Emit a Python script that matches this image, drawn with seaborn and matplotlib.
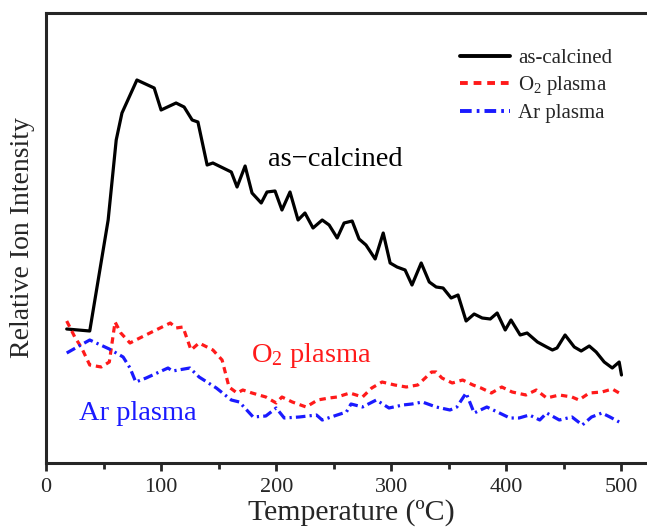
import numpy as np
import pandas as pd
import matplotlib
matplotlib.use("Agg")
import matplotlib.pyplot as plt
from matplotlib.ticker import MultipleLocator
import seaborn as sns

# ---- data (intensity in arbitrary units) ----
calc_T = [18, 38, 54, 61, 66, 79, 94, 100, 113, 120, 127, 132, 140, 145, 161, 166, 173, 179,
          187, 192, 199, 205, 212, 219, 225, 232, 240, 246, 253, 259, 266, 272, 278, 286, 293,
          299, 305, 312, 318, 326, 333, 339, 345, 352, 358, 365, 372, 379, 386, 392, 399, 404,
          412, 418, 427, 435, 440, 444, 451, 459, 465, 472, 478, 485, 492, 498, 500]
calc_I = [134, 132, 243, 323, 350, 383, 375, 353, 360, 356, 343, 341, 298, 300, 291, 276, 297, 270,
          260, 271, 272, 253, 271, 243, 250, 235, 243, 238, 225, 240, 242, 224, 218, 204, 230,
          200, 196, 193, 178, 200, 181, 176, 175, 165, 168, 142, 149, 145, 144, 150, 133, 143,
          128, 130, 121, 116, 113, 115, 128, 116, 112, 117, 111, 101, 95, 101, 88]

o2_T = [18, 25, 31, 38, 48, 55, 60, 65, 73, 78, 92, 108, 113, 119, 126, 133, 145, 153, 159, 166,
        171, 179, 191, 200, 205, 214, 226, 236, 246, 253, 264, 275, 283, 292, 303, 313, 323, 335,
        339, 344, 353, 362, 371, 378, 387, 396, 405, 417, 426, 435, 446, 457, 463, 472, 483, 492, 498]
o2_I = [142, 126, 115, 98, 96, 101, 141, 130, 120, 123, 131, 140, 135, 136, 113, 120, 113, 103, 76, 70,
        73, 70, 66, 60, 66, 61, 56, 63, 65, 66, 70, 66, 75, 81, 78, 76, 78, 91,
        91, 85, 80, 83, 78, 75, 70, 76, 71, 68, 73, 65, 68, 66, 63, 70, 71, 74, 70]

ar_T = [18, 38, 55, 67, 73, 78, 87, 106, 110, 125, 133, 148, 161, 168, 180, 191, 200, 207, 220,
        235, 240, 253, 261, 265, 275, 287, 298, 310, 318, 327, 339, 351, 357, 365, 372, 383, 394,
        403, 411, 420, 429, 435, 446, 457, 466, 474, 483, 490, 498]
ar_I = [110, 123, 114, 106, 95, 81, 85, 95, 92, 95, 86, 75, 63, 61, 46, 47, 55, 45, 46,
        48, 43, 48, 51, 59, 56, 63, 55, 58, 59, 61, 56, 53, 56, 70, 50, 56, 50,
        45, 45, 48, 43, 50, 43, 46, 38, 46, 50, 46, 41]

series_labels = ["as-calcined", "O$_2$ plasma", "Ar plasma"]
annot_texts = ["as\u2212calcined", "O$_2$ plasma", "Ar plasma"]
colors = ["black", "#ff1a1a", "#1a1aff"]
x_ticks = [0, 100, 200, 300, 400, 500]

df = pd.concat([
    pd.DataFrame({"T": calc_T, "I": calc_I, "s": series_labels[0]}),
    pd.DataFrame({"T": o2_T, "I": o2_I, "s": series_labels[1]}),
    pd.DataFrame({"T": ar_T, "I": ar_I, "s": series_labels[2]}),
])

sns.set_style("ticks")
plt.rcParams["font.family"] = ["Liberation Serif", "DejaVu Serif"]
plt.rcParams["mathtext.fontset"] = "custom"
plt.rcParams["mathtext.rm"] = "Liberation Serif"
plt.rcParams["mathtext.it"] = "Liberation Serif:italic"

fig = plt.figure(figsize=(6.47, 5.32), dpi=100)
ax = fig.add_axes([46 / 647, 1 - 463 / 532, 610 / 647, 450 / 532])

dashes = {series_labels[0]: "", series_labels[1]: (2.0, 1.5), series_labels[2]: (3.0, 1.3, 0.7, 1.3)}
sns.lineplot(data=df, x="T", y="I", hue="s", style="s", palette=dict(zip(series_labels, colors)),
             dashes=dashes, linewidth=2.3, sort=False, ax=ax, estimator=None)

ax.set_xlim(0, 530)
ax.set_ylim(0, 450)
ax.set_xticks(x_ticks)
ax.xaxis.set_minor_locator(MultipleLocator(50))
ax.set_yticks([])
ax.tick_params(axis="x", which="major", direction="out", length=6, width=2, labelsize=16, pad=5)
ax.tick_params(axis="x", which="minor", direction="out", length=4, width=2)
for sp in ax.spines.values():
    sp.set_linewidth(2.2)
    sp.set_visible(True)

ax.set_xlabel("Temperature (\u00baC)", fontsize=21.5, labelpad=1)
ax.set_ylabel("Relative Ion Intensity", fontsize=20, labelpad=8)

ax.text(251, 303, annot_texts[0], color=colors[0], fontsize=20.5, ha="center", va="center")
ax.text(231, 108, annot_texts[1], color=colors[1], fontsize=20.5, ha="center", va="center")
ax.text(80, 50, annot_texts[2], color=colors[2], fontsize=20.5, ha="center", va="center")

leg = ax.legend(loc="upper left", bbox_to_anchor=(399 / 610, 1 - 21 / 450), frameon=False,
                fontsize=15, handlelength=2.4, labelspacing=0.3, handletextpad=0.4,
                borderpad=0.2)
for line in leg.get_lines():
    line.set_linewidth(2.8)

fig.savefig("out.png", dpi=100)
